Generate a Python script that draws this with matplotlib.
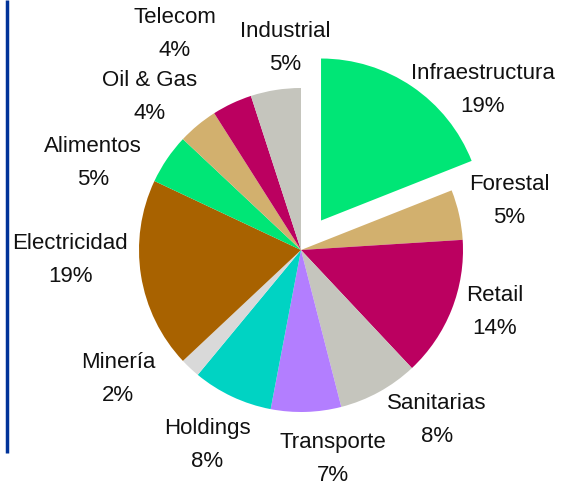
import matplotlib
matplotlib.use("Agg")
import matplotlib.pyplot as plt

# sectors, clockwise from 12 o'clock
sectors = ["Infraestructura", "Forestal", "Retail", "Sanitarias", "Transporte",
           "Holdings", "Minería", "Electricidad", "Alimentos", "Oil & Gas",
           "Telecom", "Industrial"]
shares = [19, 5, 14, 8, 7, 8, 2, 19, 5, 4, 4, 5]
colors = ["#00E676", "#D2B06E", "#BB0060", "#C5C5BD", "#B37EFF", "#00D3C3",
          "#D9D9D9", "#A86200", "#00E676", "#D2B06E", "#BB0060", "#C5C5BD"]
explode = [0.22, 0, 0, 0, 0, 0, 0, 0, 0, 0, 0, 0]

# label block centres in pixel coords (x, y from top)
label_pos = [(483, 90), (509, 201), (495, 312), (437, 420), (333, 459),
             (207, 445), (118, 379), (70, 260), (93, 163), (150, 97),
             (175, 34), (285, 48)]

W, H = 573, 487
R = 162
fig = plt.figure(figsize=(W / 100, H / 100), dpi=100)
ax = fig.add_axes([0, 0, 1, 1])

# pie's explode is in data units, so scale by the radius
ax.pie(shares, colors=colors, explode=[e * R for e in explode], startangle=90,
       counterclock=False, center=(301, H - 250), radius=R,
       wedgeprops=dict(linewidth=0), frame=True)
ax.set_xlim(0, W)
ax.set_ylim(0, H)
ax.axis("off")

for name, val, (x, y) in zip(sectors, shares, label_pos):
    ax.text(x, H - y, "{}\n{}%".format(name, val), ha="center", va="center",
            fontsize=16, family="Liberation Sans", linespacing=1.7,
            color="#111111")

# blue rule on the left edge
ax.plot([6.5, 6.5], [H, H - 453], color="#003399", linewidth=2.5,
        solid_capstyle="butt")

fig.savefig("out.png", dpi=100)
